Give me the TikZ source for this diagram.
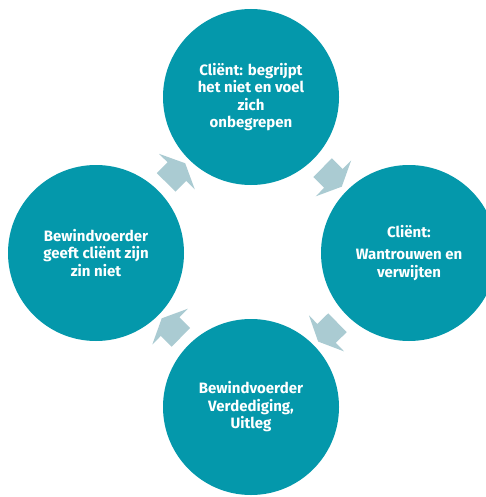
\documentclass[tikz,border=0pt]{standalone}
\usepackage{fontspec}
\setmainfont{Fira Sans}
\usetikzlibrary{shapes.arrows}
\definecolor{cirkelblauw}{RGB}{4,152,171}
\definecolor{pijlgrijs}{RGB}{170,203,210}

\begin{document}
\begin{tikzpicture}[x=1pt,y=-1pt,
    cirkel/.style={circle, fill=cirkelblauw, minimum size=176pt, inner sep=0pt,
      text=white, align=center, font=\bfseries\fontsize{15}{17.5}\selectfont},
    pijl/.style={single arrow, fill=pijlgrijs, inner xsep=0pt, inner ysep=13pt,
      minimum height=27pt, single arrow head extend=12pt,
      single arrow tip angle=130, sloped, allow upside down}]
  \useasboundingbox (0,0) rectangle (486,497);
  \clip (0,0) rectangle (486,497);
  % de vier stappen van de cirkel
  \node[cirkel] (boven) at (251,97) {Cliënt: begrijpt\\het niet en voel\\zich\\onbegrepen};
  \node[cirkel] (rechts) at (409,253) {Cliënt:\\[5pt]Wantrouwen en\\verwijten};
  \node[cirkel] (onder) at (251,407) {Bewindvoerder\\Verdediging,\\Uitleg};
  \node[cirkel] (links) at (96,253) {Bewindvoerder\\geeft cliënt zijn\\zin niet};
  % pijlen met de klok mee
  \path (links) -- (boven) node[midway, pijl] (p1) {};
  \path (boven) -- (rechts) node[midway, pijl] (p2) {};
  \path (rechts) -- (onder) node[midway, pijl] (p3) {};
  \path (onder) -- (links) node[midway, pijl] (p4) {};
\end{tikzpicture}
\end{document}
